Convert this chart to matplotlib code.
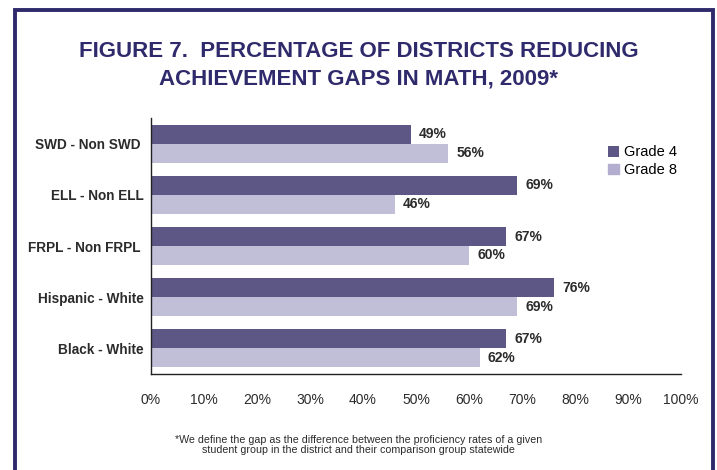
import matplotlib
matplotlib.use("Agg")
import matplotlib.pyplot as plt
from matplotlib.patches import Rectangle
import numpy as np

# --- data ---
groups = ["SWD - Non SWD ", "ELL - Non ELL", "FRPL - Non FRPL ",
          "Hispanic - White", "Black - White"]
grade4 = [49, 69, 67, 76, 67]
grade8 = [56, 46, 60, 69, 62]
xticks = [0, 10, 20, 30, 40, 50, 60, 70, 80, 90, 100]

NAVY = "#2f2a6b"
DARK = "#5d5786"
LIGHT = "#c1bed8"
TEXT = "#2b2b2b"

plt.rcParams["font.family"] = ["Liberation Sans", "DejaVu Sans"]

fig = plt.figure(figsize=(7.17, 4.70), dpi=100)

# page frame (runs off the bottom edge)
fig.patches.append(Rectangle((14.5 / 717, -0.05), 698.5 / 717, 1 - 10 / 470 + 0.05,
                             transform=fig.transFigure, fill=False,
                             edgecolor=NAVY, linewidth=2.8))

fig.text(0.5, 1 - 52 / 470, "FIGURE 7.  PERCENTAGE OF DISTRICTS REDUCING",
         ha="center", va="center", fontsize=16, fontweight="bold", color=NAVY)
fig.text(0.5, 1 - 79 / 470, "ACHIEVEMENT GAPS IN MATH, 2009*",
         ha="center", va="center", fontsize=16, fontweight="bold", color=NAVY)

ax = fig.add_axes([151 / 717, 1 - 374 / 470, 530 / 717, 256 / 470])
y = np.arange(len(groups))
h = 0.371
b4 = ax.barh(y - h / 2, grade4, height=h, color=DARK, label="Grade 4")
b8 = ax.barh(y + h / 2, grade8, height=h, color=LIGHT, label="Grade 8")

for bars, vals in ((b4, grade4), (b8, grade8)):
    for bar, v in zip(bars, vals):
        ax.annotate(f"{v}%", (v, bar.get_y() + bar.get_height() / 2),
                    xytext=(6, 0), textcoords="offset points",
                    ha="left", va="center", fontsize=10, fontweight="bold",
                    color=TEXT)

ax.set_xlim(0, 100)
ax.set_ylim(len(groups) - 0.5, -0.5)
ax.set_yticks(y)
ax.set_yticklabels(groups, fontsize=9.8, fontweight="bold", color=TEXT)
ax.set_xticks(xticks)
ax.set_xticklabels([f"{t}%" for t in xticks], fontsize=10, color=TEXT)
ax.tick_params(length=0)
ax.tick_params(axis="x", pad=14)
ax.tick_params(axis="y", pad=5)
for s in ("top", "right"):
    ax.spines[s].set_visible(False)
for s in ("left", "bottom"):
    ax.spines[s].set_linewidth(1.0)
    ax.spines[s].set_color("#222222")

leg = ax.legend(loc="upper left", bbox_to_anchor=(601 / 717, 1 - 138 / 470),
                bbox_transform=fig.transFigure, frameon=False, fontsize=10.5,
                handlelength=0.75, handleheight=0.75, handletextpad=0.3,
                labelspacing=0.25, borderpad=0)
leg.legend_handles[1].set_color("#b3aed0")

fig.text(0.5, 1 - 445 / 470,
         "*We define the gap as the difference between the proficiency rates of a given\n"
         "student group in the district and their comparison group statewide",
         ha="center", va="center", fontsize=7.7, color=TEXT, linespacing=0.95)

fig.savefig("out.png", dpi=100)
